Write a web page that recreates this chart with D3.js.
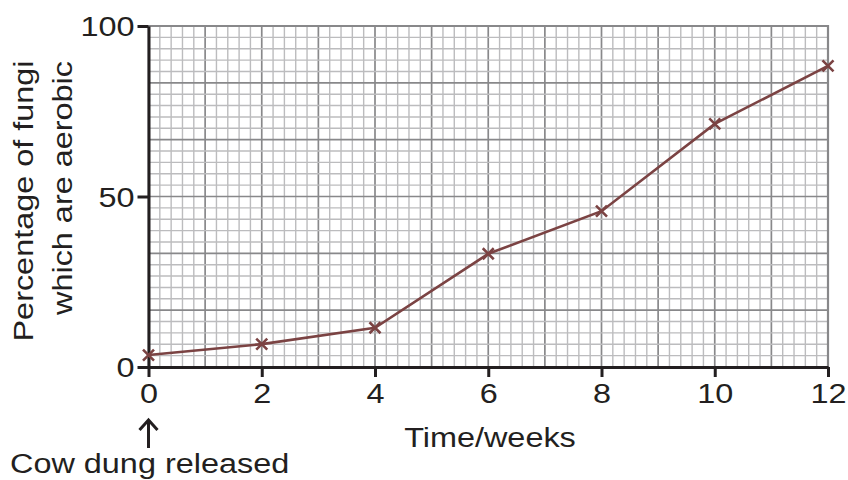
<!DOCTYPE html>
<html><head><meta charset="utf-8">
<script src="https://cdn.jsdelivr.net/npm/d3@7"></script>
<style>body{margin:0;background:#fff}svg{display:block}text{font-family:"Liberation Sans",Arial,sans-serif;fill:#231f20}</style>
</head><body><svg id="c" width="848" height="480"></svg>
<script>
const weeks = [0, 2, 4, 6, 8, 10, 12];
const aerobicPct = [3.5, 6.7, 11.5, 33.2, 45.7, 71.3, 88.3];
const xTicks = [0, 2, 4, 6, 8, 10, 12];
const yTicks = [0, 50, 100];
const xTitle = "Time/weeks";
const yTitle = ["Percentage of fungi", "which are aerobic"];
const note = "Cow dung released";

const FS = 27, WIDEN = 1.2;
function widen(sel) {
  sel.each(function () {
    const w = this.getComputedTextLength();
    d3.select(this).attr("textLength", w * WIDEN).attr("lengthAdjust", "spacingAndGlyphs");
  });
}

const svg = d3.select("#c");
const L = 148.5, R = 828, T = 26, B = 367;
const x = d3.scaleLinear().domain([0, 12]).range([L, R]);
const y = d3.scaleLinear().domain([0, 100]).range([B, T]);

const g = svg.append("g");
const xMinor = d3.range(0, 61).map(i => i * 0.2);
const yMinor = d3.range(0, 31).map(i => i * 100 / 30);
g.selectAll(".vx").data(xMinor).join("line")
  .attr("x1", d => x(d)).attr("x2", d => x(d)).attr("y1", T).attr("y2", B)
  .attr("stroke", (d, i) => i % 5 === 0 ? "#88888a" : "#bcbcbe")
  .attr("stroke-width", (d, i) => i % 5 === 0 ? 1.7 : 1.4);
g.selectAll(".hy").data(yMinor).join("line")
  .attr("y1", d => y(d)).attr("y2", d => y(d)).attr("x1", L).attr("x2", R)
  .attr("stroke", (d, i) => i % 5 === 0 ? "#88888a" : "#bcbcbe")
  .attr("stroke-width", (d, i) => i % 5 === 0 ? 1.7 : 1.4);
g.append("path").attr("d", `M${L},${T}H${R}V${B}`).attr("fill", "none").attr("stroke", "#88888a").attr("stroke-width", 2.2);

const xAxis = d3.axisBottom(x).tickValues(xTicks).tickSize(10).tickSizeOuter(0).tickPadding(7);
const yAxis = d3.axisLeft(y).tickValues(yTicks).tickSize(11).tickSizeOuter(0).tickPadding(3);
const gx = svg.append("g").attr("transform", `translate(0,${B})`).call(xAxis);
const gy = svg.append("g").attr("transform", `translate(${L},0)`).call(yAxis);
[gx, gy].forEach(a => {
  a.select(".domain").attr("stroke", "#231f20").attr("stroke-width", 3);
  a.selectAll(".tick line").attr("stroke", "#231f20").attr("stroke-width", 3);
  a.selectAll(".tick text").attr("font-size", FS).attr("fill", "#231f20");
});
gx.selectAll(".tick text").attr("dy", "0.71em");
gy.selectAll(".tick text").attr("dy", "0.36em");
widen(gx.selectAll(".tick text"));
widen(gy.selectAll(".tick text"));

const line = d3.line().x((d, i) => x(weeks[i])).y(d => y(d));
svg.append("path").datum(aerobicPct).attr("d", line).attr("fill", "none")
  .attr("stroke", "#7b4343").attr("stroke-width", 2.6);
const s = 5.5;
svg.selectAll(".mk").data(aerobicPct).join("path")
  .attr("d", (d, i) => { const cx = x(weeks[i]), cy = y(d); return `M${cx-s},${cy-s}L${cx+s},${cy+s}M${cx-s},${cy+s}L${cx+s},${cy-s}`; })
  .attr("stroke", "#7b4343").attr("stroke-width", 2.6);

const t1 = svg.append("text").attr("x", 490).attr("y", 447).attr("text-anchor", "middle").attr("font-size", FS).text(xTitle);
const t2 = svg.append("text").attr("transform", `translate(33,201) rotate(-90)`).attr("text-anchor", "middle").attr("font-size", FS).text(yTitle[0]);
const t3 = svg.append("text").attr("transform", `translate(72,188) rotate(-90)`).attr("text-anchor", "middle").attr("font-size", FS).text(yTitle[1]);
const ax = x(0);
svg.append("path").attr("d", `M${ax},448V420M${ax-9},430L${ax},420L${ax+9},430`).attr("fill", "none").attr("stroke", "#231f20").attr("stroke-width", 3);
const t4 = svg.append("text").attr("x", 10).attr("y", 473).attr("font-size", FS).text(note);
[t1, t2, t3, t4].forEach(widen);
</script></body></html>
